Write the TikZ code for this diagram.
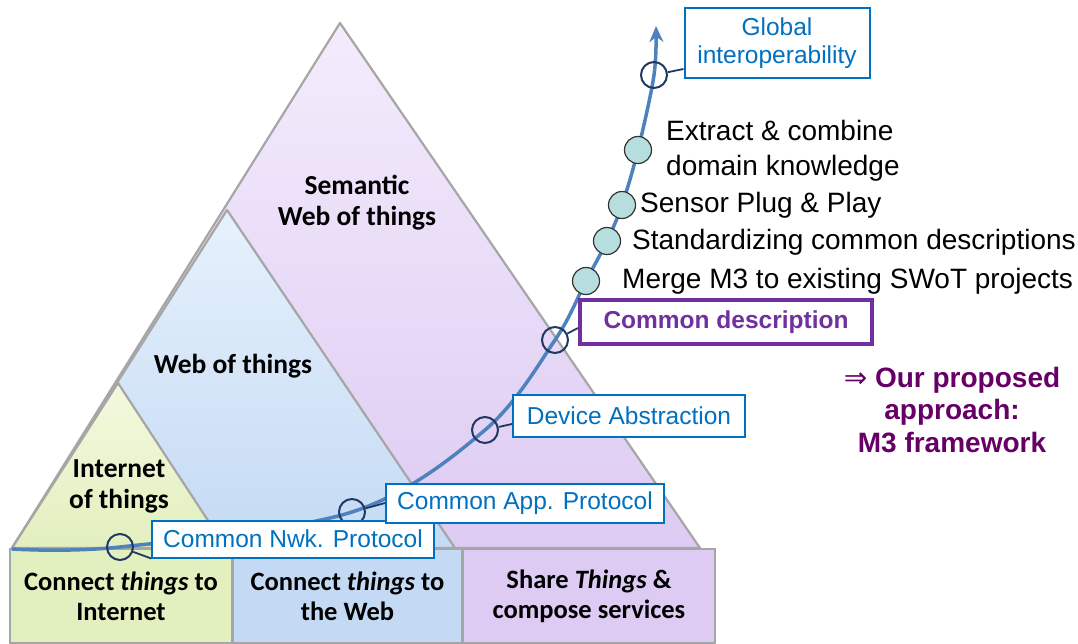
\documentclass[tikz,border=0pt]{standalone}
\usepackage{fontspec}
\setmainfont{Liberation Sans}
\newfontfamily\calibri{Carlito}
\newfontfamily\dejavu{DejaVu Sans}
\usetikzlibrary{arrows.meta,positioning}
\definecolor{iotgreen}{HTML}{E2EFBE}
\definecolor{iotgreenlt}{HTML}{F4F9DF}
\definecolor{wotblue}{HTML}{C4DAF4}
\definecolor{wotbluelt}{HTML}{E6F1FC}
\definecolor{swotpurple}{HTML}{DDCBF3}
\definecolor{swotpurplelt}{HTML}{F4ECFC}
\definecolor{infoblue}{HTML}{0070C0}
\definecolor{curveblue}{HTML}{4F81BD}
\definecolor{ringnavy}{HTML}{1F3864}
\definecolor{dotteal}{HTML}{B7DEDE}
\definecolor{descpurple}{HTML}{7030A0}
\definecolor{m3purple}{HTML}{660066}
\tikzset{
  layer/.style={draw=gray!70, line width=2.2pt, line join=round},
  layerlabel/.style={font=\calibri\bfseries\fontsize{27.5}{31}\selectfont,
                     align=center},
  basebox/.style={rectangle, draw=gray!70, line width=1.5pt,
                  minimum height=94pt, inner sep=0pt, align=center,
                  font=\calibri\bfseries\fontsize{26.5}{30}\selectfont},
  curve/.style={draw=curveblue, line width=3.5pt,
                -{Stealth[length=16pt, width=14pt]}},
  ring/.style={circle, draw=ringnavy, line width=2pt,
               minimum size=26pt, inner sep=0pt},
  dot/.style={circle, draw=black!80, fill=dotteal, line width=1.2pt,
              minimum size=27pt, inner sep=0pt},
  leader/.style={draw=ringnavy, line width=1.8pt},
  infobox/.style={rectangle, draw=infoblue, line width=2pt, fill=white,
                  text=infoblue, inner xsep=11pt, inner ysep=4pt,
                  font=\fontsize{24.5}{28}\selectfont, align=center},
  descbox/.style={rectangle, draw=descpurple, line width=4pt, fill=white,
                  text=descpurple, minimum width=292pt, minimum height=44pt,
                  font=\bfseries\fontsize{24.5}{28}\selectfont},
  steptext/.style={anchor=west, inner sep=0pt, align=left,
                   font=\fontsize{28}{35}\selectfont},
}
\begin{document}
\begin{tikzpicture}[x=1pt, y=-1pt]
  \useasboundingbox (0,0) rectangle (1078,644);
  % pyramid layers, back to front
  \shade[layer, top color=swotpurplelt, bottom color=swotpurple]
    (340,23) -- (700,548) -- (12,548) -- cycle;
  \shade[layer, top color=wotbluelt, bottom color=wotblue]
    (227,210) -- (455,548) -- (12,548) -- cycle;
  \shade[layer, top color=iotgreenlt, bottom color=iotgreen]
    (118,383) -- (226,548) -- (12,548) -- cycle;
  \node[layerlabel] (swot) at (357,203) {Semantic\\Web of things};
  \node[layerlabel] (wot) at (233,366) {Web of things};
  \node[layerlabel] (iot) at (119,486) {Internet\\of things};

  % base row
  \node[basebox, fill=iotgreen, minimum width=222pt] (iotbase) at (121,596)
    {Connect \textit{things} to\\Internet};
  \node[basebox, fill=wotblue, minimum width=228pt, right=0pt of iotbase]
    (wotbase) {Connect \textit{things} to\\the Web};
  \node[basebox, fill=swotpurple, minimum width=252pt, right=0pt of wotbase]
    (swotbase) {Share \textit{Things} \&\\compose services};

  % path to interoperability
  \coordinate (p0) at (12,549);
  \coordinate (p1) at (120,547);
  \coordinate (p2) at (352,512);
  \coordinate (p3) at (485,430);
  \coordinate (p4) at (555,340);
  \coordinate (p5) at (586,281);
  \coordinate (p6) at (607,241);
  \coordinate (p7) at (622,205);
  \coordinate (p8) at (638,150);
  \coordinate (p9) at (654,75);
  \coordinate (top) at (656,26);
  \draw[curve] plot[smooth, tension=0.55] coordinates
    {(p0) (p1) (p2) (p3) (p4) (p5) (p6) (p7) (p8) (p9) (top)};

  \node[ring] (r1) at (p1) {};
  \node[ring] (r2) at (p2) {};
  \node[ring] (r3) at (p3) {};
  \node[ring] (r4) at (p4) {};
  \node[ring] (r5) at (p9) {};
  \node[dot] (d1) at (p5) {};
  \node[dot] (d2) at (p6) {};
  \node[dot] (d3) at (p7) {};
  \node[dot] (d4) at (p8) {};

  % labelled steps
  \node[infobox, minimum height=37pt] (nwk) at (293,539) {Common Nwk. Protocol};
  \node[infobox, minimum height=39pt] (app) at (525,503) {Common App. Protocol};
  \node[infobox, minimum height=42pt, minimum width=232pt] (dev) at (629,416)
    {Device Abstraction};
  \node[descbox] (desc) at (726,322) {Common description};
  \node[infobox, minimum height=70pt, minimum width=185pt] (glob) at (777,43)
    {Global\\interoperability};
  \draw[leader] (r1) -- (nwk.south west);
  \draw[leader] (r2) -- (app.west);
  \draw[leader] (r3) -- ([yshift=-8pt]dev.west);
  \draw[leader] (r4) -- ([yshift=-6pt]desc.west);
  \draw[leader] (r5) -- ([yshift=-26pt]glob.west);

  \node[steptext] (extract) at (666,151) {Extract \& combine\\domain knowledge};
  \node[steptext] (plug) at (640,205) {Sensor Plug \& Play};
  \node[steptext] (std) at (632,242) {Standardizing common descriptions};
  \node[steptext] (merge) at (622,281) {Merge M3 to existing SWoT projects};

  \node[text=m3purple, align=center, font=\bfseries\fontsize{28}{32.5}\selectfont]
    (m3) at (952,410) {{\dejavu\mdseries ⇒} Our proposed\\approach:\\M3 framework};
\end{tikzpicture}
\end{document}
